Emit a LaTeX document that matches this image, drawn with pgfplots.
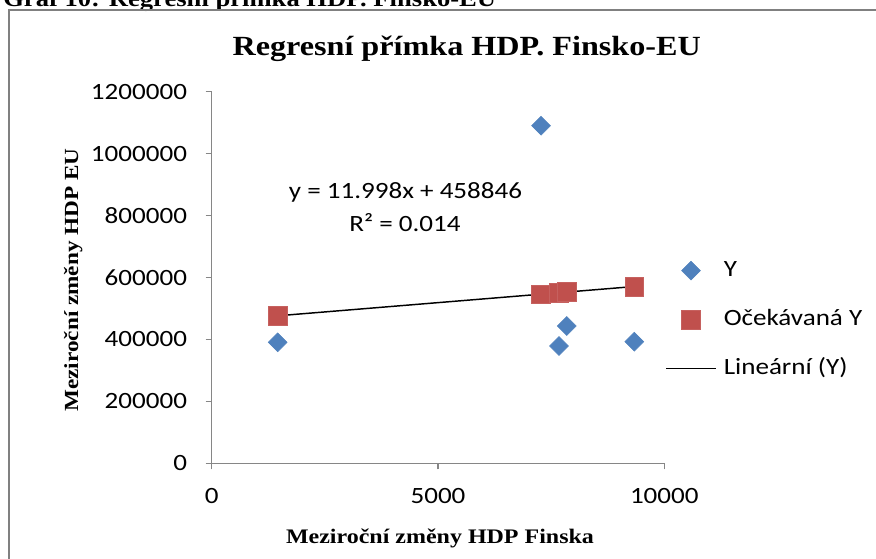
\documentclass[border=0pt]{standalone}
\usepackage{pgfplots}
\pgfplotsset{compat=1.18}
\usepackage{fontspec}
\setmainfont[FakeStretch=1.16]{Liberation Serif}
\newfontfamily\calibri[FakeStretch=1.16]{Carlito}
\definecolor{xlblue}{RGB}{79,129,189}
\definecolor{xlred}{RGB}{192,80,77}
\definecolor{axgray}{RGB}{134,134,134}
\definecolor{framegray}{RGB}{128,128,128}
\begin{document}
\begin{tikzpicture}[x=0.75pt,y=0.75pt]
\useasboundingbox (0,0) rectangle (876,558);
\clip (0,0) rectangle (876,558);
\fill[white] (0,0) rectangle (876,558);
\node[anchor=base west, inner sep=0pt, font=\bfseries\fontsize{17.2}{20}\selectfont] at (3,551.3) {Graf 10: Regresní přímka HDP. Finsko-EU};
\draw[framegray, line width=1.3pt] (9,-5) -- (9,548) -- (885,548);
\coordinate (O) at (211.7,94.7);
\begin{axis}[
  at={(O)}, anchor=south west,
  scale only axis, width=339.45pt, height=278.7pt,
  xmin=0, xmax=10000, ymin=0, ymax=1200000,
  axis x line*=bottom, axis y line*=left,
  axis line style={axgray, line width=1.1pt},
  xtick={0,5000,10000}, ytick={0,200000,400000,600000,800000,1000000,1200000},
  tick align=outside, major tick length=4.5pt,
  tick style={axgray, line width=1.1pt},
  scaled ticks=false,
  /pgf/number format/.cd, fixed, 1000 sep={}, assume math mode=true,
  /pgfplots/.cd,
  ticklabel style={font=\calibri\fontsize{17.5}{21}\selectfont, text=black},
  yticklabel style={xshift=-10.5pt},
  xticklabel style={yshift=-10.5pt},
  title={Regresní přímka HDP. Finsko-EU},
  title style={font=\bfseries\fontsize{20.8}{24}\selectfont, at={(axis description cs:0.5634,1.0764)}, anchor=base, yshift=0pt, inner sep=0pt},
  xlabel={Meziroční změny HDP Finska},
  xlabel style={font=\bfseries\fontsize{15.5}{18}\selectfont, at={(axis description cs:0.5044,-0.2145)}, anchor=base, yshift=0pt, inner sep=0pt},
  ylabel={Meziroční změny HDP EU},
  ylabel style={font=\bfseries\fontsize{15}{18}\selectfont, at={(axis description cs:-0.2954,0.4933)}, anchor=base, xshift=0pt, yshift=0pt, inner sep=0pt},
  legend style={at={(axis description cs:1.0016,0.5498)}, anchor=north west, draw=none, fill=none, inner sep=0pt,
    font=\calibri\fontsize{17.5}{21}\selectfont, row sep=19.8pt,
    nodes={inner xsep=5.25pt, inner ysep=0pt, text height=13pt, text depth=4pt}},
  legend cell align=left,
  legend image code/.code={\draw[mark repeat=2,mark phase=2,#1] plot coordinates {(0pt,0pt) (18.75pt,0pt) (37.5pt,0pt)};},
  clip=false,
]
\addplot[only marks, mark=square*, mark size=5pt, mark options={rotate=45, fill=xlblue, draw=xlblue, line width=0.4pt}] table {
x y
1458 390700
7276 1090200
7674 378800
7844 443400
9337 392700
};
\addlegendentry{Y}
\addplot[only marks, mark=square*, mark size=7pt, mark options={fill=xlred, draw=xlred!90!white, line width=0.5pt}] table {
x y
1458 476339
7276 546146
7674 550922
7844 552962
9337 570874
};
\addlegendentry{Očekávaná Y}
\addplot[black, line width=1.1pt] coordinates {(1458,476339) (9337,570874)};
\addlegendentry{Lineární (Y)}
\node[anchor=base, inner sep=0pt, font=\calibri\fontsize{17.5}{21}\selectfont] at (axis cs:4282,856700) {y = 11.998x + 458846};
\node[anchor=base, inner sep=0pt, font=\calibri\fontsize{17.5}{21}\selectfont] at (axis cs:4271,747900) {R² = 0.014};
\end{axis}
\end{tikzpicture}
\end{document}
